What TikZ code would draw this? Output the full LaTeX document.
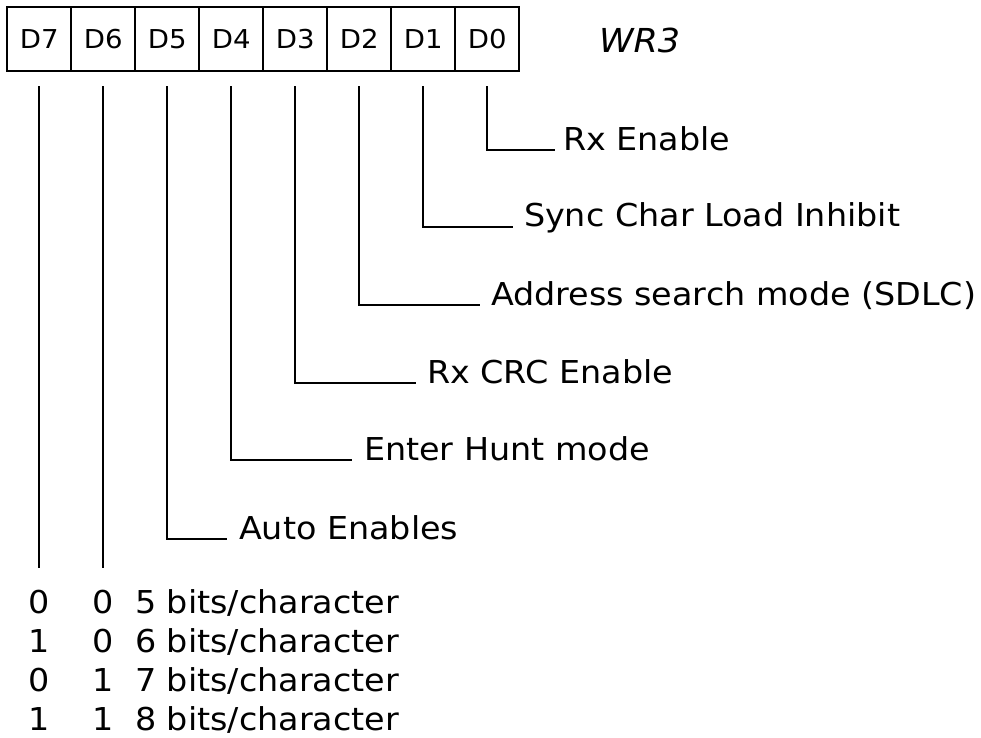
\documentclass[tikz,border=0pt]{standalone}
\usepackage{fontspec}
\setmainfont{DejaVu Sans}[FakeStretch=1.06]
\usetikzlibrary{positioning}
\tikzset{>=stealth}

\begin{document}
\begin{tikzpicture}[x=1pt, y=-1pt, line width=2pt,
		bitcell/.style={draw, minimum width=64pt, minimum height=64pt, inner sep=0pt, font=\fontsize{26}{30}\selectfont},
		bitlabel/.style={anchor=base west, inner sep=0pt, font=\fontsize{31.5}{38}\selectfont},
		tabval/.style={anchor=base, inner sep=0pt, font=\fontsize{31.5}{38}\selectfont}]
		\useasboundingbox (0,0) rectangle (981,737);
		% register cells
		\foreach \b [count=\i from 0] in {7,6,...,0}
			\node[bitcell] (d\b) at (39.3+64*\i, 39.2) {D\b};
		\node[anchor=base west, inner sep=0pt, font=\fontsize{33}{40}\selectfont\itshape] (wr) at (598, 52) {WR3};
		
		\node[bitlabel] (rxen) at (562, 150) {Rx Enable};
		\node[bitlabel] (sync) at (523, 226.7) {Sync Char Load Inhibit};
		\node[bitlabel] (addr) at (490, 305) {Address search mode (SDLC)};
		\node[bitlabel] (crc) at (426, 383.3) {Rx CRC Enable};
		\node[bitlabel] (hunt) at (363, 460) {Enter Hunt mode};
		\node[bitlabel] (auto) at (238, 539.3) {Auto Enables};
		
		\draw ([yshift=-14]d0.south) |- ([xshift=-7]rxen.base west);
		\draw ([yshift=-14]d1.south) |- ([xshift=-10]sync.base west);
		\draw ([yshift=-14]d2.south) |- ([xshift=-10]addr.base west);
		\draw ([yshift=-14]d3.south) |- ([xshift=-10]crc.base west);
		\draw ([yshift=-14]d4.south) |- ([xshift=-11]hunt.base west);
		\draw ([yshift=-14]d5.south) |- ([xshift=-11]auto.base west);
		
		% character length table
		\coordinate (tab) at (0,568);
		\draw ([yshift=-14]d7.south) -- (d7.south |- tab);
		\draw ([yshift=-14]d6.south) -- (d6.south |- tab);
		\foreach \a/\c/\n [count=\r from 0] in {0/0/5,1/0/6,0/1/7,1/1/8}{
			\node[tabval] (t\r a) at (39.3, 613+39*\r) {\a};
			\node[tabval] (t\r b) at (103.3, 613+39*\r) {\c};
			\node[bitlabel] (t\r) at (134, 613+39*\r) {\n{} bits/character};
		}
\end{tikzpicture}
\end{document}
